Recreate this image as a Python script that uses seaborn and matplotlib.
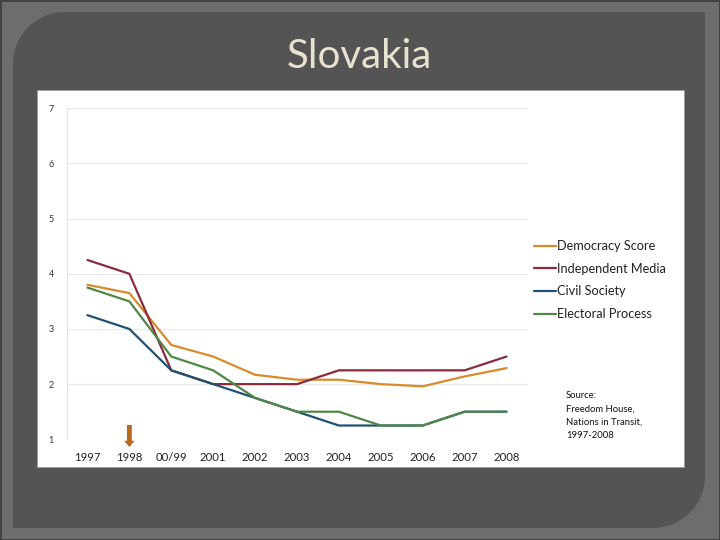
import numpy as np
import pandas as pd
import matplotlib
matplotlib.use("Agg")
import matplotlib.pyplot as plt
from matplotlib.patches import Rectangle, PathPatch
from matplotlib.path import Path
import seaborn as sns

# Freedom House, Nations in Transit - Slovakia
years = ["1997", "1998", "00/99", "2001", "2002", "2003", "2004", "2005", "2006", "2007", "2008"]
democracy_score = [3.80, 3.65, 2.71, 2.50, 2.17, 2.08, 2.08, 2.00, 1.96, 2.14, 2.29]
independent_media = [4.25, 4.00, 2.25, 2.00, 2.00, 2.00, 2.25, 2.25, 2.25, 2.25, 2.50]
civil_society = [3.25, 3.00, 2.25, 2.00, 1.75, 1.50, 1.25, 1.25, 1.25, 1.50, 1.50]
electoral_process = [3.75, 3.50, 2.50, 2.25, 1.75, 1.50, 1.50, 1.25, 1.25, 1.50, 1.50]
y_ticks = [1, 2, 3, 4, 5, 6, 7]

series = {
    "Democracy Score": democracy_score,
    "Independent Media": independent_media,
    "Civil Society": civil_society,
    "Electoral Process": electoral_process,
}
colors = {
    "Democracy Score": "#d98a2b",
    "Independent Media": "#8a2b3c",
    "Civil Society": "#1f5175",
    "Electoral Process": "#4f8744",
}

rows = []
for name, vals in series.items():
    for i, v in enumerate(vals):
        rows.append({"idx": i, "year": years[i], "score": v, "series": name})
df = pd.DataFrame(rows)

sns.set_style("white")
plt.rcParams["font.family"] = ["Lato", "DejaVu Sans"]

W, H = 720, 540
fig = plt.figure(figsize=(7.2, 5.4), dpi=100)
fig.patch.set_facecolor("#6d6d6d")

# slide background: dark panel with rounded top-left / bottom-right corners
bg = fig.add_axes([0, 0, 1, 1])
bg.set_xlim(0, W)
bg.set_ylim(H, 0)
bg.axis("off")
bg.add_patch(Rectangle((0.5, 0.5), W - 1, H - 1, facecolor="none", edgecolor="#3a3a3a", lw=1.2))
x0, x1, y0, y1, r = 13, 705, 12, 528, 52
t = np.linspace(0, np.pi / 2, 30)
verts = [(x1, y0), (x1, y1 - r)]
verts += [(x1 - r + r * np.cos(a), y1 - r + r * np.sin(a)) for a in t]
verts += [(x0, y1), (x0, y0 + r)]
verts += [(x0 + r - r * np.cos(a), y0 + r - r * np.sin(a)) for a in t]
verts += [(x1, y0)]
bg.add_patch(PathPatch(Path(verts), facecolor="#545454", edgecolor="none"))
bg.add_patch(Rectangle((37, 90), 647, 377, facecolor="white", edgecolor="#9a9a9a", lw=0.6))

fig.text(0.499, 1 - 56 / H, "Slovakia", ha="center", va="center",
         fontsize=29, color="#e9e2cf")

ax = fig.add_axes([66.5 / W, 1 - 439.3 / H, 461 / W, 331 / H])
ax.set_facecolor("none")
sns.lineplot(data=df, x="idx", y="score", hue="series", palette=colors,
             hue_order=list(series.keys()), linewidth=1.6, ax=ax, legend=False)
ax.set_xlim(-0.5, 10.5)
ax.set_ylim(1, 7)
ax.set_xticks(range(len(years)))
ax.set_xticklabels(years)
ax.set_yticks(y_ticks)
ax.set_xlabel("")
ax.set_ylabel("")
ax.grid(axis="y", color="#e9e9e9", linewidth=0.8)
for s in ["top", "right", "bottom"]:
    ax.spines[s].set_visible(False)
ax.spines["left"].set_color("#e2e2e2")
ax.spines["left"].set_linewidth(0.8)
ax.tick_params(axis="x", length=0, pad=9, labelsize=8.2, labelcolor="#222222")
ax.tick_params(axis="y", length=0, pad=9, labelsize=6.5, labelcolor="#333333")

# arrow marking 1998
ax.annotate("", xy=(1, 0.81), xytext=(1, 1.31), xycoords="data",
            annotation_clip=False,
            arrowprops=dict(arrowstyle="simple,head_length=0.45,head_width=0.75,tail_width=0.35",
                            color="#b8671e", lw=0))

handles = [plt.Line2D([], [], color=colors[n], lw=1.6) for n in series]
fig.legend(handles, list(series.keys()), loc="upper left",
           bbox_to_anchor=(534 / W, 1 - 240 / H), frameon=False,
           fontsize=9.2, handlelength=1.7, handletextpad=0.1,
           labelspacing=0.84, borderpad=0, borderaxespad=0,
           labelcolor="#222222")

fig.text(566 / W, 1 - 391 / H, "Source:\nFreedom House,\nNations in Transit,\n1997-2008",
         ha="left", va="top", fontsize=6.8, color="#111111", linespacing=1.6)

fig.savefig("out.png", dpi=100, facecolor=fig.get_facecolor())
